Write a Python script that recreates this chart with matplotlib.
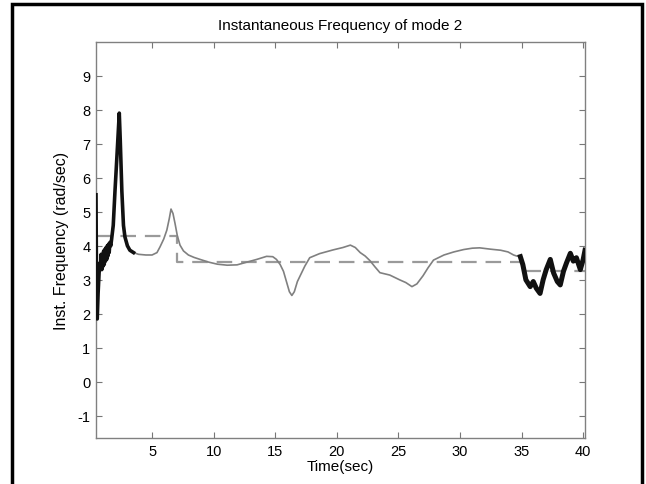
import matplotlib
matplotlib.use("Agg")
import matplotlib.pyplot as plt
from matplotlib import patches

plt.rcParams['font.family'] = ['Liberation Sans', 'DejaVu Sans']
plt.rcParams['axes.unicode_minus'] = False

# first part: noisy start + big peak (drawn dark and heavy)
t_start = [0.45, 0.47, 0.50, 0.55, 0.62, 0.70, 0.77, 0.82, 0.87, 0.92, 0.97, 1.02, 1.07,
           1.12, 1.17, 1.22, 1.27, 1.32, 1.37, 1.42, 1.47, 1.52, 1.58, 1.65, 1.72,
           1.85, 1.99, 2.13, 2.25, 2.34, 2.42, 2.55, 2.68, 2.80, 3.00, 3.20, 3.50]
f_start = [5.5, 4.2, 2.6, 1.85, 2.6, 3.2, 3.5, 3.35, 3.75, 3.3, 3.7, 3.4, 3.85,
           3.45, 3.9, 3.55, 3.95, 3.6, 4.0, 3.7, 4.05, 3.8, 4.1, 4.0, 4.2,
           4.6, 5.6, 6.5, 7.3, 7.9, 7.1, 5.6, 4.6, 4.26, 4.0, 3.87, 3.8]

# middle part: smooth thin curve
t_mid = [3.50, 3.90, 4.50, 5.00, 5.40, 5.65, 5.95, 6.20, 6.40, 6.54, 6.70, 6.87, 7.05,
         7.27, 7.55, 7.95, 8.40, 8.90, 9.60, 10.3, 11.1, 11.9, 12.7, 13.5, 14.3,
         14.8, 15.1, 15.4, 15.67, 15.95, 16.15, 16.35, 16.55, 16.8, 17.0, 17.4,
         17.8, 18.6, 19.7, 20.5, 21.1, 21.5, 21.9, 22.3, 22.7, 23.1, 23.5, 24.3,
         25.1, 25.6, 26.1, 26.5, 27.0, 27.4, 27.85, 28.7, 29.5, 30.3, 31.0, 31.6,
         32.5, 33.3, 33.9, 34.35, 34.6, 34.9]
f_mid = [3.8, 3.75, 3.73, 3.73, 3.8, 3.97, 4.2, 4.46, 4.8, 5.08, 4.95, 4.65, 4.3,
         4.02, 3.85, 3.73, 3.66, 3.6, 3.52, 3.46, 3.43, 3.44, 3.52, 3.6, 3.69,
         3.68, 3.6, 3.45, 3.25, 2.9, 2.65, 2.54, 2.65, 2.95, 3.1, 3.4,
         3.65, 3.77, 3.88, 3.95, 4.02, 3.95, 3.8, 3.7, 3.56, 3.38, 3.21, 3.14,
         3.0, 2.92, 2.8, 2.88, 3.12, 3.35, 3.58, 3.73, 3.82, 3.89, 3.93, 3.94,
         3.9, 3.87, 3.82, 3.73, 3.7, 3.68]

# last part: oscillating end (drawn dark and heavy)
t_end = [34.9, 35.1, 35.35, 35.7, 35.95, 36.2, 36.5, 36.75, 37.0, 37.33, 37.6, 37.9,
         38.14, 38.4, 38.65, 38.96, 39.2, 39.45, 39.77, 40.0, 40.15]
f_end = [3.68, 3.45, 3.0, 2.8, 2.95, 2.75, 2.6, 3.0, 3.3, 3.6, 3.2, 2.95,
         2.85, 3.25, 3.5, 3.78, 3.55, 3.65, 3.3, 3.6, 3.87]

# dashed step reference
t_ref = [0.45, 7.0, 35.0, 40.15]
f_ref = [4.3, 3.52, 3.26, 3.26]

fig = plt.figure(figsize=(6.46, 4.85), dpi=100)
ax = fig.add_axes([0.1486, 0.0948, 0.7570, 0.8172])

ax.plot(t_ref, f_ref, drawstyle='steps-post', color='#9a9a9a', lw=1.6,
        dashes=(7, 4), zorder=1)
ax.plot(t_mid, f_mid, color='#808080', lw=1.2, zorder=2)
ax.plot(t_start, f_start, color='#111111', lw=2.6, zorder=3)
ax.plot(t_end, f_end, color='#111111', lw=3.6, zorder=3)

ax.set_xlim(0.45, 40.15)
ax.set_ylim(-1.65, 10)
ax.set_xticks([5, 10, 15, 20, 25, 30, 35, 40])
ax.set_yticks([-1, 0, 1, 2, 3, 4, 5, 6, 7, 8, 9])
ax.tick_params(direction='in', top=True, right=True, length=4, width=0.8,
               color='#777777', labelsize=10.5, pad=4)
for s in ax.spines.values():
    s.set_color('#808080')
    s.set_linewidth(1.0)

ax.set_title('Instantaneous Frequency of mode 2', fontsize=11, pad=9)
ax.set_xlabel('Time(sec)', fontsize=11, labelpad=1)
ax.set_ylabel('Inst. Frequency (rad/sec)', fontsize=11.5, labelpad=6)

# black frame around the figure
fig.patches.append(patches.Rectangle((12 / 646, -0.02), (642 - 12) / 646, 1 - 5 / 485 + 0.02,
                                     transform=fig.transFigure, fill=False,
                                     edgecolor='black', lw=2.5))

fig.savefig('out.png', dpi=100)
